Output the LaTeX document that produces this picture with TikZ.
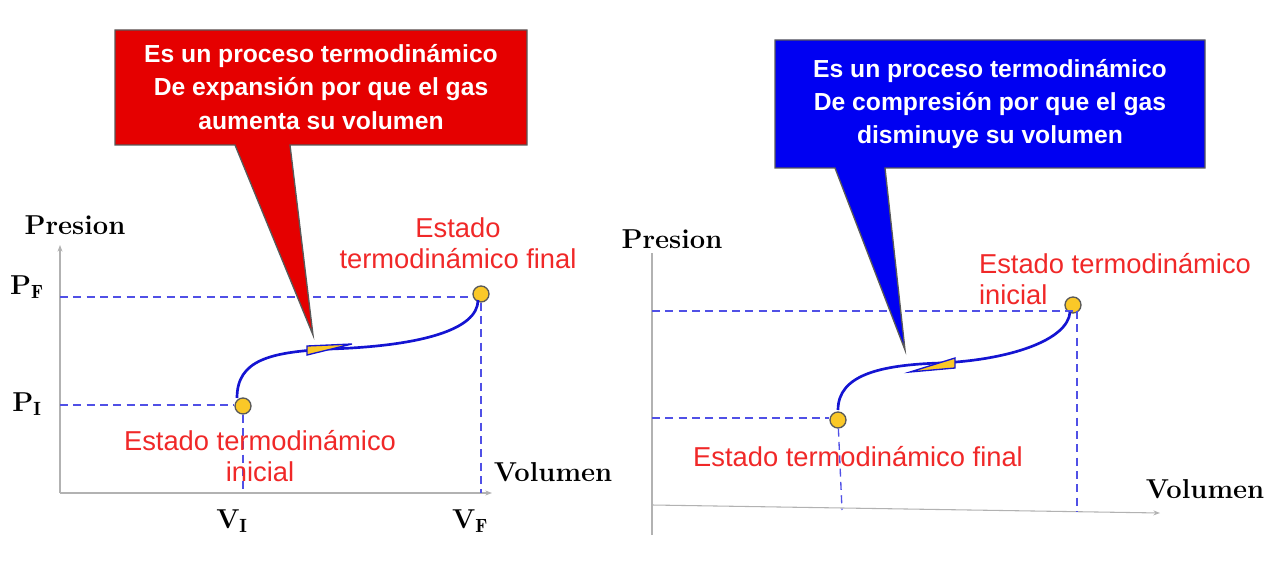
\documentclass[tikz,border=0pt]{standalone}
\usepackage{fontspec}
\setsansfont{Liberation Sans}
\usetikzlibrary{arrows.meta}
\definecolor{dash}{RGB}{80,80,230}
\definecolor{lbl}{RGB}{240,40,40}
\definecolor{curve}{RGB}{20,20,210}
\definecolor{dot}{RGB}{250,200,40}
\begin{document}
\begin{tikzpicture}[x=0.75pt,y=-0.75pt,
 axis/.style={draw=gray!60,line width=0.8pt,-{Stealth[length=5pt]}},
 guide/.style={draw=dash,dashed,line width=1pt,dash pattern=on 6pt off 4pt},
 lab/.style={text=lbl,font=\sffamily\fontsize{20.5}{23}\selectfont,align=center},
 ax/.style={font=\rmfamily\bfseries\fontsize{20.5}{22}\selectfont},
 pt/.style={circle,draw=gray!70!black,fill=dot,line width=1pt,minimum size=12pt,inner sep=0pt},
 call/.style={font=\sffamily\bfseries\fontsize{18.5}{25}\selectfont,text=white,align=center}]
\useasboundingbox (0,0) rectangle (1280,566);
% left graph
\coordinate (lo) at (60,493);
\coordinate (ly) at (60,245);
\coordinate (lx) at (492,493);
\draw[axis] (lo) -- (ly);
\draw[axis] (lo) -- (lx);
\node[pt] (pi) at (243,406) {};
\node[pt] (pf) at (481,294) {};
\draw[guide] (60,297) -- (pf.west |- 0,297);
\draw[guide] (60,405) -- (pi.west |- 0,405);
\draw[guide] (pi) -- (pi |- lo);
\draw[guide] (pf) -- (pf |- lo);
\draw[curve,line width=2pt] (237,398) .. controls (237,360) and (270,352) .. (330,349) .. controls (420,346) and (478,330) .. (478,300);
\draw[curve,fill=dot,line width=1pt] (307,355) -- (352,344) -- (307,346) -- cycle;
\node[ax] (plab) at (75,225) {Presion};
\node[ax] at (27,287) {P$_\mathbf{F}$};
\node[ax] at (27,404) {P$_\mathbf{I}$};
\node[ax] at (232,521) {V$_\mathbf{I}$};
\node[ax] at (470,521) {V$_\mathbf{F}$};
\node[ax] at (553,472) {Volumen};
\node[lab] at (458,243) {Estado\\termodinámico final};
\node[lab] at (260,456) {Estado termodinámico\\inicial};
\fill[red!90!black,draw=gray!70!black,line width=1pt] (115,30) -- (527,30) -- (527,145) -- (290,145) -- (313,335) -- (235,145) -- (115,145) -- cycle;
\node[call] (ct1) at (321,87) {Es un proceso termodinámico\\De expansión por que el gas\\aumenta su volumen};
% right graph
\draw[axis] (652,535) -- (652,225);
\draw[axis] (652,505) -- (1160,513);
\node[pt] (ri) at (1073,305) {};
\node[pt] (rf) at (838,420) {};
\draw[guide] (652,311) -- (1077,311);
\draw[guide] (652,418) -- (rf.west |- 0,418);
\draw[guide] (rf) -- (842,510);
\draw[guide] (1077,311) -- (1077,512);
\draw[curve,line width=2pt] (838,410) .. controls (838,375) and (880,365) .. (940,363) .. controls (1010,360) and (1068,340) .. (1070,312);
\draw[curve,fill=dot,line width=1pt] (910,372) -- (955,358) -- (955,368) -- cycle;
\node[ax,fill=white] at (672,239) {Presion};
\node[ax] at (1205,489) {Volumen};
\node[lab,align=left] at (1115,279) {Estado termodinámico\\inicial};
\node[lab] at (858,457) {Estado termodinámico final};
\fill[blue!95!black,draw=gray!70!black,line width=1pt] (775,40) -- (1205,40) -- (1205,168) -- (885,168) -- (905,350) -- (835,168) -- (775,168) -- cycle;
\node[call] (ct2) at (990,104) {Es un proceso termodinámico\\De compresión por que el gas\\disminuye su volumen};
\end{tikzpicture}
\end{document}
